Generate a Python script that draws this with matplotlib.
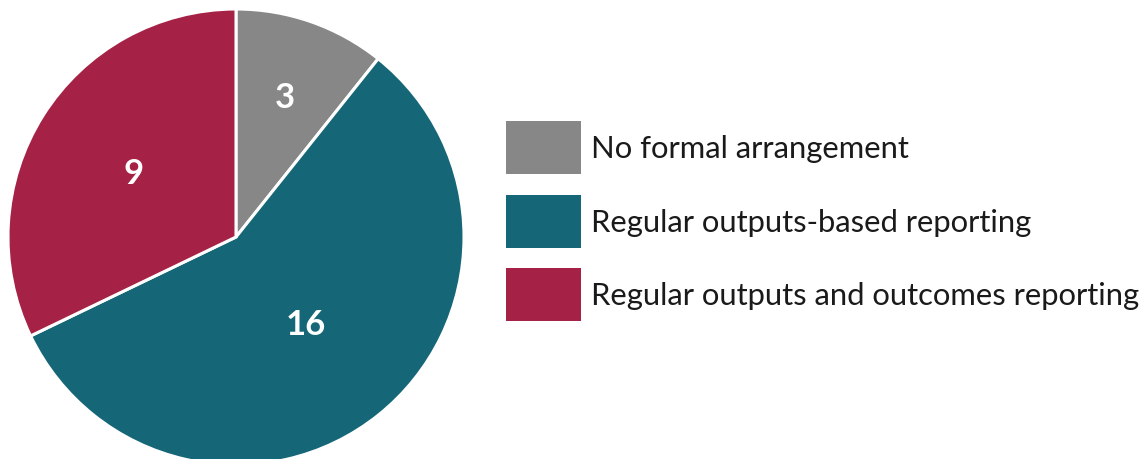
import matplotlib.pyplot as plt
from matplotlib.patches import Rectangle
import numpy as np

labels = ['No formal arrangement', 'Regular outputs-based reporting',
          'Regular outputs and outcomes reporting']
counts = [3, 16, 9]
colors = ['#878787', '#156677', '#A52145']
label_r = [0.65, 0.49, 0.53]  # radial position of the count inside each wedge

plt.rcParams['font.family'] = ['Lato', 'DejaVu Sans']

W, H = 1147, 460
fig = plt.figure(figsize=(W / 100, H / 100), dpi=100)

# pie occupies a square box at the left, running a little off the bottom edge
ax = fig.add_axes([8 / W, -6 / H, 456 / W, 456 / H])
wedges, _ = ax.pie(counts, colors=colors, startangle=90, counterclock=False,
                   radius=1, wedgeprops=dict(edgecolor='white', linewidth=2.2))
ax.set_xlim(-1, 1)
ax.set_ylim(-1, 1)
ax.axis('off')

for w, n, r in zip(wedges, counts, label_r):
    mid = np.deg2rad((w.theta1 + w.theta2) / 2)
    ax.text(r * np.cos(mid), r * np.sin(mid), str(n), color='white',
            fontsize=25, fontweight='bold', ha='center', va='center')

# legend: colour swatch plus label, one row per category
x0, sw, sh, top, step = 506, 75, 53, 122, 73.5
for i, (lab, c) in enumerate(zip(labels, colors)):
    y = top + i * step
    fig.patches.append(Rectangle((x0 / W, 1 - (y + sh) / H), sw / W, sh / H,
                                 transform=fig.transFigure, facecolor=c,
                                 edgecolor='none'))
    fig.text((x0 + sw + 10) / W, 1 - (y + sh / 2 + 1) / H, lab,
             fontsize=22.3, color='#1a1a1a', ha='left', va='center')

fig.savefig('out.png', dpi=100)
